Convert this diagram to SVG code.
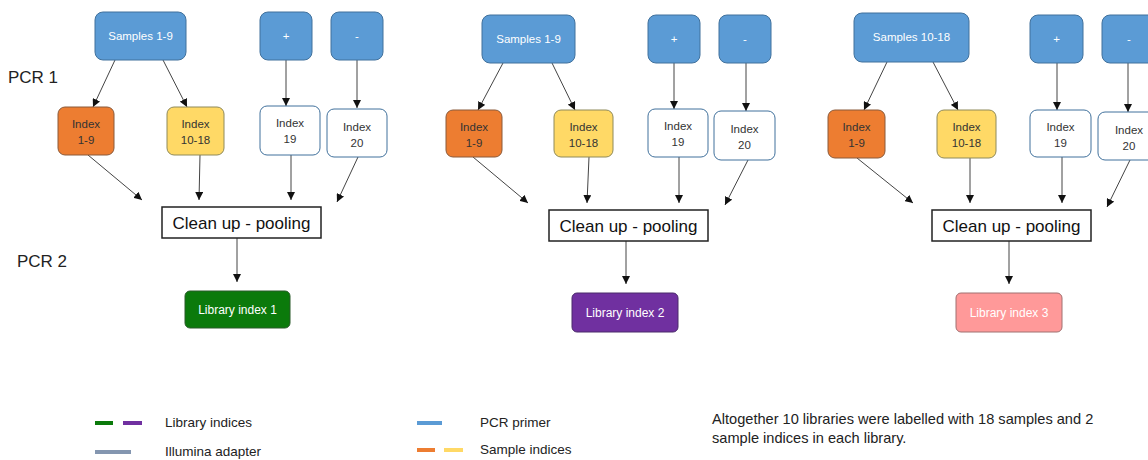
<svg xmlns="http://www.w3.org/2000/svg" width="1148" height="460" viewBox="0 0 1148 460">
<defs>
<marker id="ah" viewBox="0 0 10 10" refX="10" refY="5" markerWidth="8" markerHeight="8" markerUnits="userSpaceOnUse" orient="auto">
<path d="M0,0 L10,5 L0,10 z" fill="#111"/>
</marker>
<style>
.t{font-family:"Liberation Sans",Arial,sans-serif}
.pri{fill:#5b9bd5;stroke:#41719c;stroke-width:1}
.o{fill:#ed7d31;stroke:#8a5a3a;stroke-width:1}
.y{fill:#ffd966;stroke:#8f8a5a;stroke-width:1}
.w{fill:#fff;stroke:#41719c;stroke-width:1}
.cl{fill:#fff;stroke:#222;stroke-width:1.5}
.wt{fill:#fff;font-size:11.5px;text-anchor:middle}
.it{fill:#333;font-size:11.5px;text-anchor:middle}
.ct{fill:#111;font-size:17px;text-anchor:middle}
.lt{fill:#fff;font-size:12px;text-anchor:middle}
.ar{stroke:#444;stroke-width:1;fill:none;marker-end:url(#ah)}
.leg{fill:#222;font-size:13.5px}
.nt{fill:#222;font-size:14.6px}
.ll{stroke-width:4}
</style>
</defs>

<text class="t" x="8" y="83" font-size="17" fill="#222">PCR 1</text>
<text class="t" x="17" y="267" font-size="17" fill="#222">PCR 2</text>

<g id="connectors">
<line class="ar" x1="115" y1="60" x2="93" y2="107"/>
<line class="ar" x1="163" y1="60" x2="187" y2="107"/>
<line class="ar" x1="286" y1="60" x2="286" y2="106"/>
<line class="ar" x1="357" y1="60" x2="357" y2="108"/>
<line class="ar" x1="88" y1="155" x2="142" y2="200"/>
<line class="ar" x1="200" y1="155" x2="199" y2="200"/>
<line class="ar" x1="291" y1="155" x2="291" y2="200"/>
<line class="ar" x1="358" y1="157" x2="337" y2="202"/>
<line class="ar" x1="237" y1="238" x2="237" y2="282"/>
<line class="ar" x1="503" y1="63" x2="478" y2="110"/>
<line class="ar" x1="552" y1="63" x2="575" y2="110"/>
<line class="ar" x1="674" y1="63" x2="674" y2="109"/>
<line class="ar" x1="746" y1="63" x2="746" y2="111"/>
<line class="ar" x1="473" y1="157" x2="528" y2="203"/>
<line class="ar" x1="589" y1="157" x2="587" y2="203"/>
<line class="ar" x1="679" y1="157" x2="679" y2="203"/>
<line class="ar" x1="748" y1="160" x2="725" y2="205"/>
<line class="ar" x1="626" y1="241" x2="626" y2="284"/>
<line class="ar" x1="887" y1="62" x2="864" y2="110"/>
<line class="ar" x1="933" y1="62" x2="958" y2="110"/>
<line class="ar" x1="1057" y1="63" x2="1057" y2="110"/>
<line class="ar" x1="1128" y1="63" x2="1128" y2="112"/>
<line class="ar" x1="857" y1="158" x2="913" y2="203"/>
<line class="ar" x1="970" y1="158" x2="970" y2="203"/>
<line class="ar" x1="1062" y1="157" x2="1062" y2="203"/>
<line class="ar" x1="1130" y1="160" x2="1107" y2="207"/>
<line class="ar" x1="1009" y1="241" x2="1009" y2="284"/>
</g>

<g id="p1-samples"><rect class="pri" x="95" y="12" width="91" height="48" rx="8"/><text class="t wt" x="140.5" y="40">Samples 1-9</text></g>
<g id="p1-plus"><rect class="pri" x="260" y="12" width="52" height="48" rx="8"/><text class="t wt" x="286" y="40">+</text></g>
<g id="p1-minus"><rect class="pri" x="331" y="12" width="52" height="48" rx="8"/><text class="t wt" x="357" y="40">-</text></g>
<g id="p1-idx1"><rect class="o" x="58" y="107" width="56" height="48" rx="7"/><text class="t it" x="86" y="128">Index</text><text class="t it" x="86" y="144">1-9</text></g>
<g id="p1-idx10"><rect class="y" x="167" y="107" width="57" height="48" rx="7"/><text class="t it" x="195.5" y="128">Index</text><text class="t it" x="195.5" y="144">10-18</text></g>
<g id="p1-idx19"><rect class="w" x="260" y="106" width="60" height="49" rx="7"/><text class="t it" x="290" y="127">Index</text><text class="t it" x="290" y="143">19</text></g>
<g id="p1-idx20"><rect class="w" x="327" y="109" width="60" height="48" rx="7"/><text class="t it" x="357" y="131">Index</text><text class="t it" x="357" y="147">20</text></g>
<g id="p1-clean"><rect class="cl" x="162" y="207" width="159" height="31"/><text class="t ct" x="241.5" y="228.5">Clean up - pooling</text></g>
<g id="p1-lib"><rect x="185" y="291" width="105" height="37" rx="5" fill="#0b7a0b" stroke="#2a5a2a"/><text class="t lt" x="237.5" y="314">Library index 1</text></g>

<g id="p2-samples"><rect class="pri" x="482" y="15" width="93" height="48" rx="8"/><text class="t wt" x="528.5" y="43">Samples 1-9</text></g>
<g id="p2-plus"><rect class="pri" x="648" y="15" width="52" height="48" rx="8"/><text class="t wt" x="674" y="43">+</text></g>
<g id="p2-minus"><rect class="pri" x="719" y="15" width="52" height="48" rx="8"/><text class="t wt" x="745" y="43">-</text></g>
<g id="p2-idx1"><rect class="o" x="446" y="110" width="56" height="47" rx="7"/><text class="t it" x="474" y="131">Index</text><text class="t it" x="474" y="147">1-9</text></g>
<g id="p2-idx10"><rect class="y" x="554" y="110" width="59" height="47" rx="7"/><text class="t it" x="583.5" y="131">Index</text><text class="t it" x="583.5" y="147">10-18</text></g>
<g id="p2-idx19"><rect class="w" x="648" y="109" width="60" height="48" rx="7"/><text class="t it" x="678" y="130">Index</text><text class="t it" x="678" y="146">19</text></g>
<g id="p2-idx20"><rect class="w" x="714" y="111" width="61" height="49" rx="7"/><text class="t it" x="744.5" y="133">Index</text><text class="t it" x="744.5" y="149">20</text></g>
<g id="p2-clean"><rect class="cl" x="549" y="210" width="159" height="31"/><text class="t ct" x="628.5" y="231.5">Clean up - pooling</text></g>
<g id="p2-lib"><rect x="572" y="293" width="106" height="39" rx="5" fill="#7030a0" stroke="#4a2a6a"/><text class="t lt" x="625" y="317">Library index 2</text></g>

<g id="p3-samples"><rect class="pri" x="854" y="13" width="115" height="49" rx="8"/><text class="t wt" x="911.5" y="41">Samples 10-18</text></g>
<g id="p3-plus"><rect class="pri" x="1030" y="15" width="53" height="48" rx="8"/><text class="t wt" x="1056.5" y="43">+</text></g>
<g id="p3-minus"><rect class="pri" x="1102" y="15" width="56" height="48" rx="8"/><text class="t wt" x="1129" y="43">-</text></g>
<g id="p3-idx1"><rect class="o" x="828" y="110" width="57" height="48" rx="7"/><text class="t it" x="856.5" y="131">Index</text><text class="t it" x="856.5" y="147">1-9</text></g>
<g id="p3-idx10"><rect class="y" x="937" y="110" width="59" height="48" rx="7"/><text class="t it" x="966.5" y="131">Index</text><text class="t it" x="966.5" y="147">10-18</text></g>
<g id="p3-idx19"><rect class="w" x="1030" y="110" width="61" height="47" rx="7"/><text class="t it" x="1060.5" y="131">Index</text><text class="t it" x="1060.5" y="147">19</text></g>
<g id="p3-idx20"><rect class="w" x="1098" y="112" width="61" height="48" rx="7"/><text class="t it" x="1129" y="134">Index</text><text class="t it" x="1129" y="150">20</text></g>
<g id="p3-clean"><rect class="cl" x="932" y="210" width="159" height="31"/><text class="t ct" x="1011.5" y="231.5">Clean up - pooling</text></g>
<g id="p3-lib"><rect x="956" y="293" width="106" height="39" rx="5" fill="#ff9999" stroke="#a07070"/><text class="t lt" x="1009" y="317" fill="#ffeaea">Library index 3</text></g>

<g id="legend">
<line class="ll" x1="95" y1="423" x2="113" y2="423" stroke="#0b7a0b"/>
<line class="ll" x1="123" y1="423" x2="142" y2="423" stroke="#7030a0"/>
<text class="t leg" x="165" y="427">Library indices</text>
<line class="ll" x1="95" y1="452" x2="131" y2="452" stroke="#8496b0"/>
<text class="t leg" x="165" y="456">Illumina adapter</text>
<line class="ll" x1="417" y1="423" x2="442" y2="423" stroke="#5b9bd5"/>
<text class="t leg" x="480" y="427">PCR primer</text>
<line class="ll" x1="417" y1="450" x2="435" y2="450" stroke="#ed7d31"/>
<line class="ll" x1="444" y1="450" x2="463" y2="450" stroke="#ffd966"/>
<text class="t leg" x="480" y="454">Sample indices</text>
</g>
<g id="note">
<text class="t nt" x="712" y="424">Altogether 10 libraries were labelled with 18 samples and 2</text>
<text class="t nt" x="712" y="443">sample indices in each library.</text>
</g>
</svg>
